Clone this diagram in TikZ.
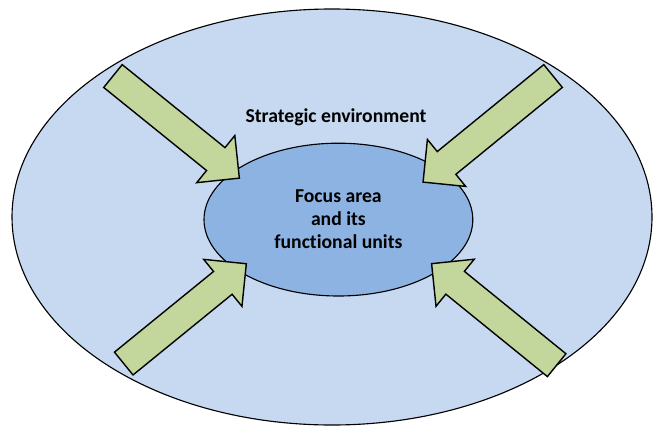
\documentclass[tikz,border=0pt]{standalone}
\usepackage{fontspec}
\setsansfont{Carlito}[RawFeature={-liga;-clig;-dlig}]
\usepackage{tikz}
\usetikzlibrary{calc,shapes.geometric,shapes.arrows}

\definecolor{envblue}{HTML}{C6D9F1}
\definecolor{focusblue}{HTML}{8DB3E2}
\definecolor{arrowgreen}{HTML}{C3D69B}

\newcommand{\pusharrow}[3]{
\path let \p1 = (#2), \p2 = (#3),
  \n1 = {atan2(\y2 - \y1, \x2 - \x1)},
  \n2 = {veclen(\x2 - \x1, \y2 - \y1)} in
  node [pushbox, rotate=\n1, minimum height=\n2, anchor=tail] (#1) at (\p1) {};
}

\begin{document}
\begin{tikzpicture}[
  label/.style={font=\sffamily\bfseries\fontsize{14}{16.4}\selectfont},
  pushbox/.style={single arrow, draw, fill=arrowgreen, line width=1pt,
    inner xsep=0pt, inner ysep=0.35cm, minimum width=0pt,
    single arrow head extend=0.39cm, single arrow tip angle=90}
]

\useasboundingbox (0, 0) rectangle (16.4, 10.7);

\node [ellipse, draw, fill=envblue, line width=0.8pt, inner sep=0pt,
  minimum width=16cm, minimum height=10.4cm] (env) at (8.3, 5.275) {};

\node [ellipse, draw, fill=focusblue, line width=0.8pt, inner sep=0pt,
  minimum width=6.72cm, minimum height=3.82cm, align=center, label]
  (focus) at (8.46, 5.21) {Focus area\\and its\\functional units};

\node [label, anchor=base] (envtext) at (8.4, 7.65) {Strategic environment};

\coordinate (tailNW) at (2.81, 8.81);
\coordinate (tipNW) at (5.98, 6.25);
\coordinate (tailNE) at (13.84, 8.81);
\coordinate (tipNE) at (10.58, 6.15);
\coordinate (tailSW) at (3.08, 1.6);
\coordinate (tipSW) at (6.15, 4.1);
\coordinate (tailSE) at (13.93, 1.56);
\coordinate (tipSE) at (10.8, 4.1);

\foreach \d in {NW, NE, SW, SE} {
\pusharrow{push\d}{tail\d}{tip\d}
}

\end{tikzpicture}
\end{document}
